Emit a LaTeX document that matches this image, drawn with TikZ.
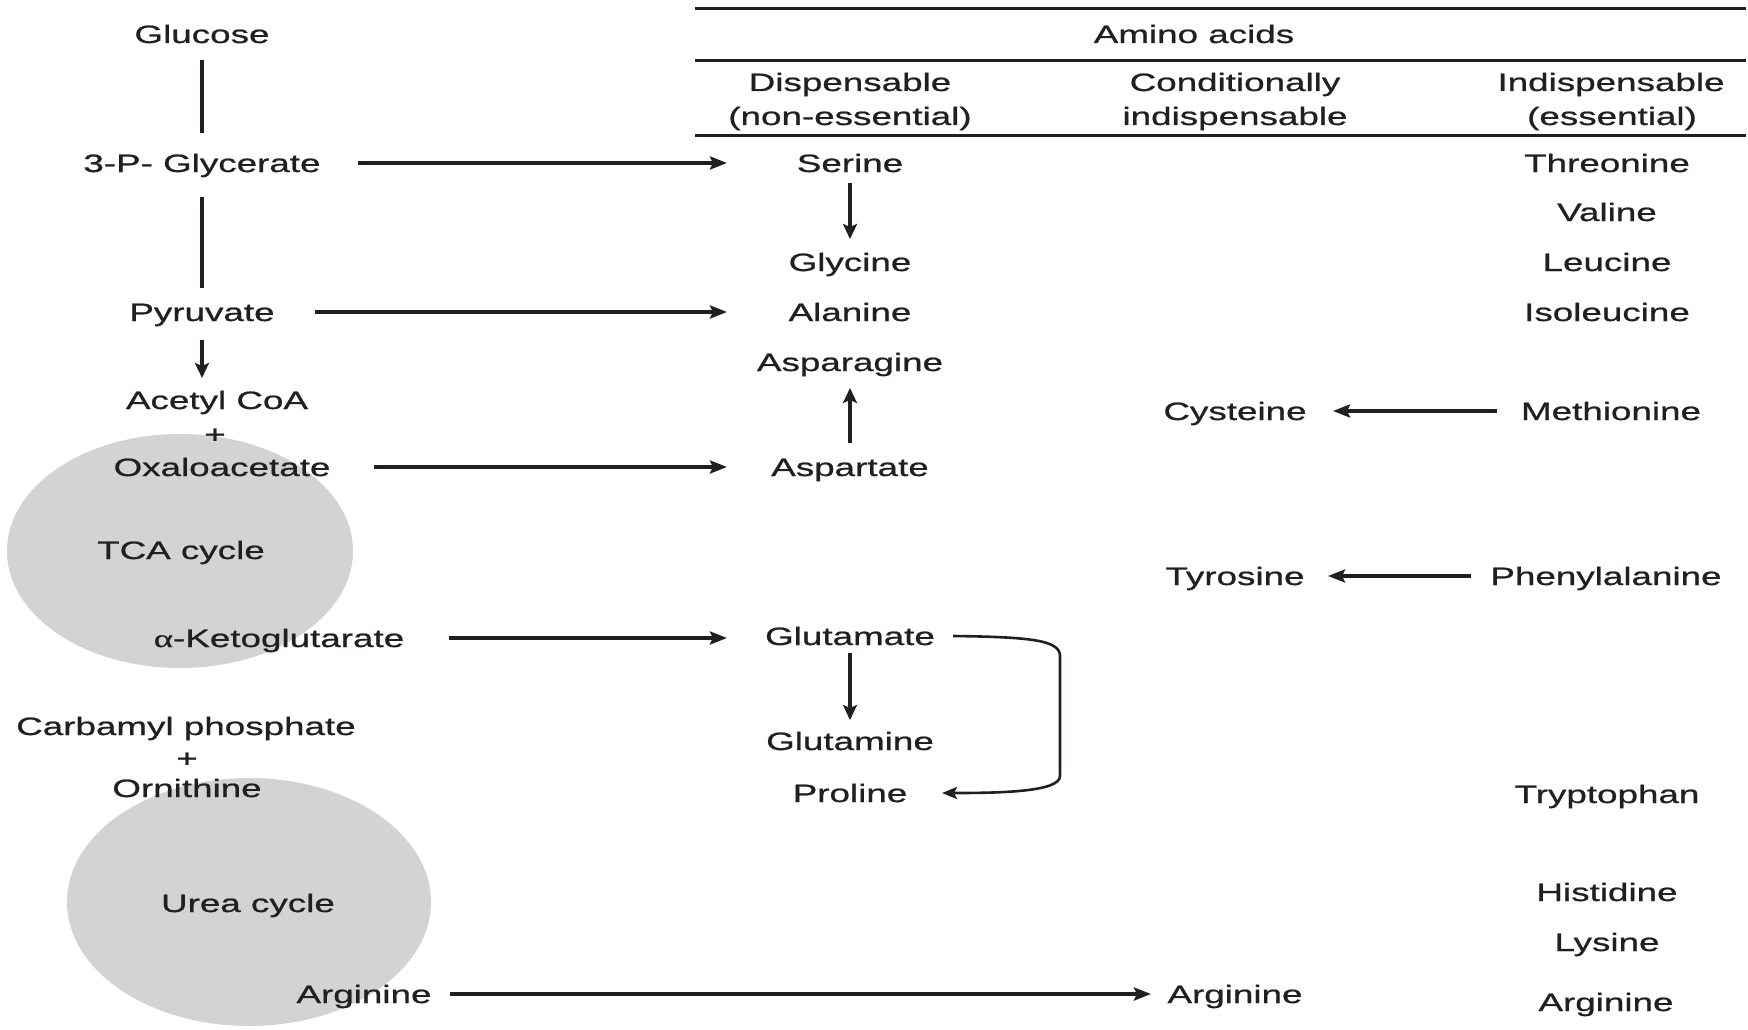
\documentclass[tikz,border=0pt]{standalone}
\usepackage{fontspec}
\usetikzlibrary{arrows.meta}
\newfontfamily\labfont{Liberation Sans}[FakeStretch=1.466,FakeBold=0.8]
\newfontfamily\alfont{Liberation Serif}[FakeStretch=1.466,FakeBold=0.8]
\definecolor{ink}{RGB}{35,31,32}
\definecolor{cyc}{RGB}{209,211,212}
\begin{document}
\begin{tikzpicture}[x=1pt,y=-1pt,
  lbl/.style={font=\labfont\fontsize{25.1}{30}\selectfont, text=ink, inner sep=0pt, text height=18pt, text depth=0pt},
  ln/.style={draw=ink, line width=3.6pt},
  harr/.style={draw=ink, line width=3.4pt, -{Stealth[length=17pt,width=13pt,inset=3pt]}},
  varr/.style={draw=ink, line width=3.2pt, -{Stealth[length=15pt,width=14pt,inset=3pt]}},
  carr/.style={draw=ink, line width=2.6pt, -{Stealth[length=15pt,width=12pt,inset=3pt]}},
  tablerule/.style={draw=ink, line width=3pt}]
\useasboundingbox (0,0) rectangle (1748,1030);
\fill[white] (0,0) rectangle (1748,1030);

% cycles
\fill[cyc] (180,551) ellipse [x radius=173pt, y radius=117pt];
\fill[cyc] (249,902) ellipse [x radius=182pt, y radius=124pt];

% table header
\draw[tablerule] (695,9) -- (1746,9);
\draw[tablerule] (695,61) -- (1746,61);
\draw[tablerule] (695,136) -- (1746,136);
\node[lbl] (amino) at (1194,34) {Amino acids};
\node[lbl] (dis1) at (850,82) {Dispensable};
\node[lbl] (dis2) at (850,116) {(non-essential)};
\node[lbl] (cond1) at (1235,82) {Conditionally};
\node[lbl] (cond2) at (1235,116) {indispensable};
\node[lbl] (ind1) at (1611,82) {Indispensable};
\node[lbl] (ind2) at (1612,116) {(essential)};

% left column
\node[lbl] (glucose) at (202,34) {Glucose};
\node[lbl] (glyc) at (202,163) {3-P- Glycerate};
\node[lbl] (pyr) at (202,312) {Pyruvate};
\node[lbl] (acoa) at (217,400) {Acetyl CoA};
\node[lbl] (plusa) at (215,434) {+};
\node[lbl] (oxa) at (222,467) {Oxaloacetate};
\node[lbl] (tca) at (181,550) {TCA cycle};
\node[lbl] (akg) at (279,638) {{\alfont α}-Ketoglutarate};
\node[lbl] (carb) at (186,726) {Carbamyl phosphate};
\node[lbl] (plusb) at (187,758) {+};
\node[lbl] (orn) at (187,788) {Ornithine};
\node[lbl] (urea) at (248,903) {Urea cycle};
\node[lbl] (argL) at (364,994) {Arginine};

% dispensable column
\node[lbl] (ser) at (850,163) {Serine};
\node[lbl] (gly) at (850,262) {Glycine};
\node[lbl] (ala) at (850,312) {Alanine};
\node[lbl] (asn) at (850,362) {Asparagine};
\node[lbl] (asp) at (850,467) {Aspartate};
\node[lbl] (glu) at (850,636) {Glutamate};
\node[lbl] (gln) at (850,741) {Glutamine};
\node[lbl] (pro) at (850,793) {Proline};

% conditionally indispensable column
\node[lbl] (cys) at (1235,411) {Cysteine};
\node[lbl] (tyr) at (1235,576) {Tyrosine};
\node[lbl] (argM) at (1235,994) {Arginine};

% indispensable column
\node[lbl] (thr) at (1607,163) {Threonine};
\node[lbl] (val) at (1607,212) {Valine};
\node[lbl] (leu) at (1607,262) {Leucine};
\node[lbl] (ile) at (1607,312) {Isoleucine};
\node[lbl] (met) at (1611,411) {Methionine};
\node[lbl] (phe) at (1606,576) {Phenylalanine};
\node[lbl] (trp) at (1607,794) {Tryptophan};
\node[lbl] (his) at (1607,892) {Histidine};
\node[lbl] (lys) at (1607,942) {Lysine};
\node[lbl] (argR) at (1606,1002) {Arginine};

% left vertical connectors
\draw[ln] ([yshift=-26pt]glucose.center) -- ([yshift=30pt]glyc.center);
\draw[ln] ([yshift=-34pt]glyc.center) -- ([yshift=24pt]pyr.center);
\draw[varr, line width=3.4pt] ([yshift=-28pt]pyr.center) -- ([yshift=22pt]pyr.center |- acoa.center);

% horizontal arrows to amino acids
\draw[harr] ([xshift=156pt]glyc.center) -- ([xshift=-123pt]ser.center);
\draw[harr] ([xshift=113pt]pyr.center) -- ([xshift=-123pt]ala.center);
\draw[harr] ([xshift=152pt]oxa.center) -- ([xshift=-123pt]asp.center);
\draw[harr] ([xshift=170pt]akg.center) -- ([xshift=-123pt]glu.center |- akg.center);
\draw[harr] ([xshift=86pt]argL.center) -- ([xshift=-84pt]argM.center);

% within dispensable column
\draw[varr] ([yshift=-20pt]ser.center) -- ([yshift=23pt]gly.center);
\draw[varr] ([yshift=24pt]asp.center) -- ([yshift=-26pt]asn.center);
\draw[varr] ([yshift=-17pt]glu.center) -- ([yshift=21pt]gln.center);
\draw[carr] ([xshift=103pt]glu.center) .. controls (1030,637) and (1060,640) .. (1060,656)
  -- (1060,776) .. controls (1060,792) and (1000,793) .. ([xshift=92pt]pro.center);

% essential -> conditionally indispensable
\draw[harr] ([xshift=-114pt]met.center) -- ([xshift=98pt]cys.center);
\draw[harr] ([xshift=-135pt]phe.center) -- ([xshift=93pt]tyr.center);
\end{tikzpicture}
\end{document}
